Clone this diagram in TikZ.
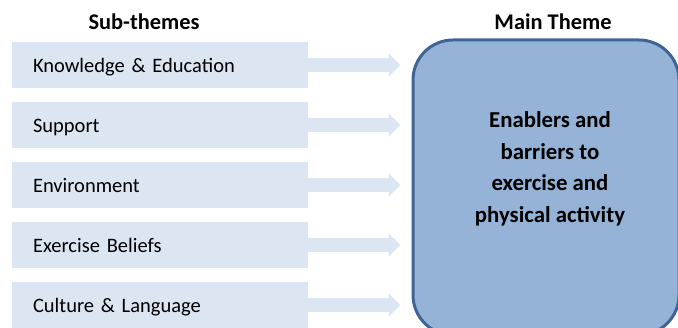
\documentclass[tikz,border=0pt]{standalone}
\usepackage{fontspec}
\setmainfont{Carlito}
\usepackage{xcolor}
\usepackage{tikz}
\usetikzlibrary{arrows.meta, positioning}

\definecolor{subfill}{HTML}{DCE6F2}
\definecolor{mainfill}{HTML}{95B3D7}
\definecolor{mainline}{HTML}{3F6596}

\begin{document}
\begin{tikzpicture}[
  x=1pt, y=-1pt,
  node distance=14pt,
  font=\fontsize{20.5}{24}\selectfont,
  subbox/.style={
    rectangle, fill=subfill, draw=none,
    minimum width=296pt, minimum height=46pt,
    text width=254pt, inner xsep=21pt, inner ysep=0pt,
    text height=18pt, text depth=3pt,
    outer sep=0pt, align=left,
  },
  mainbox/.style={
    rectangle, rounded corners=40pt, fill=mainfill, draw=mainline,
    line width=3pt, minimum width=266pt, minimum height=295pt,
  },
  title/.style={font=\fontsize{22.4}{24}\selectfont\bfseries},
  flow/.style={
    draw=subfill, line width=14pt, shorten >=11pt,
    -{Triangle[width=23pt,length=12pt]},
  },
]
\useasboundingbox (0,0) rectangle (678,328);
\clip (0,0) rectangle (678,328);

% --- Titles ---
\node[title] (SUBT) at (144,22) {Sub-themes};
\node[title] (MAINT) at (553,22) {Main Theme};

% --- Main theme ---
\node[mainbox] (MAIN) at (546,187.5) {};
\node[align=center, font=\fontsize{22.8}{31.5}\selectfont\bfseries] (MAINTXT) at (550,169)
  {Enablers and\\ barriers to\\ exercise and\\ physical activity};

% --- Sub-themes ---
\node[subbox, anchor=north west] (KNOW) at (12,42) {Knowledge \& Education};
\node[subbox, below=of KNOW] (SUPP) {Support};
\node[subbox, below=of SUPP] (ENV) {Environment};
\node[subbox, below=of ENV] (BEL) {Exercise Beliefs};
\node[subbox, below=of BEL] (CUL) {Culture \& Language};

% --- Arrows ---
\foreach \s in {KNOW, SUPP, ENV, BEL, CUL}
  \draw[flow] (\s.east) -- (\s.east -| MAIN.west);

\end{tikzpicture}
\end{document}
